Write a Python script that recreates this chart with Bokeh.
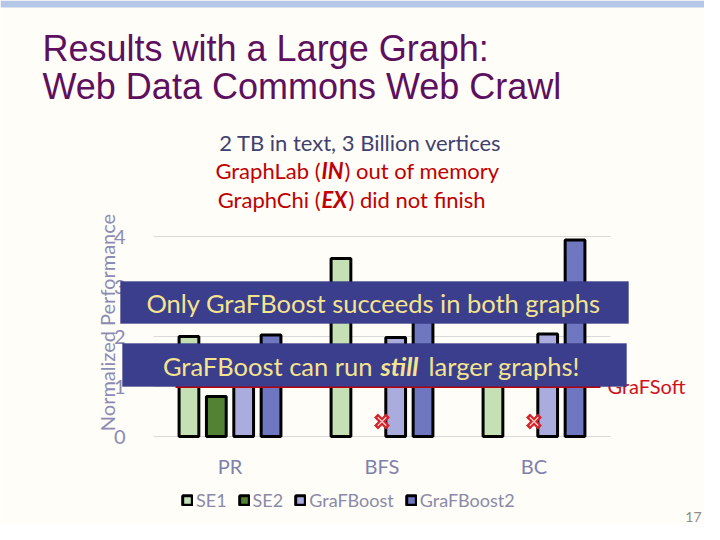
import math
from bokeh.plotting import figure
from bokeh.models import (Range1d, ColumnDataSource, Label, BoxAnnotation,
                          Legend, LegendItem, FixedTicker)
from bokeh.transform import dodge
from bokeh.embed import file_html
from bokeh.resources import INLINE

# ---------------- data ----------------
categories = ["PR", "BFS", "BC"]
se1 = [2.0, 3.56, 1.5]
se2 = [0.8, float("nan"), float("nan")]
grafboost = [1.5, 1.98, 2.05]
grafboost2 = [2.03, 2.8, 3.93]
failed_categories = ["BFS", "BC"]
grafsoft_level = 1.0
y_ticks = [0, 1, 2, 3, 4]
series_names = ["SE1", "SE2", "GraFBoost", "GraFBoost2"]

# ---------------- layout helpers (canvas px -> data) ----------------
W, H = 704, 524
PLOT_L, PLOT_R, PLOT_T, PLOT_B = 153.5, 609.5, 236, 436  # px of the chart area
CAT_PX = (PLOT_R - PLOT_L) / len(categories)
UNIT_PX = (PLOT_B - PLOT_T) / 4.0


def dx(px):
    return (px - PLOT_L) / CAT_PX


def dy(py):
    return (PLOT_B - py) / UNIT_PX


BG = "#fffdf7"
CAL = "Lato"

p = figure(x_range=Range1d(dx(0), dx(W)), y_range=Range1d(dy(H), dy(0)),
           width=W, height=H, output_backend="svg", toolbar_location=None,
           min_border=0)
p.background_fill_color = BG
p.border_fill_color = BG
p.outline_line_color = None

cat_pos = [i + 0.5 for i in range(len(categories))]
src = ColumnDataSource(dict(xc=cat_pos, se1=se1, se2=se2, gf=grafboost, gf2=grafboost2))

# grid lines of the chart area
p.segment(x0=[dx(153)] * len(y_ticks), x1=[dx(610)] * len(y_ticks), y0=y_ticks, y1=y_ticks,
          line_color="#d9d9d9", line_width=1, level="underlay")

colors = ["#c5e0b4", "#548235", "#a9acdc", "#6e77c0"]
fields = ["se1", "se2", "gf", "gf2"]
offsets = [-0.27, -0.09, 0.09, 0.27]
renderers = []
for f, c, o in zip(fields, colors, offsets):
    r = p.vbar(x=dodge("xc", o), top=f, bottom=0, width=0.13, source=src,
               fill_color=c, line_color="black", line_width=3)
    renderers.append(r)

# GraFSoft reference line
p.segment(x0=[dx(175)], y0=[grafsoft_level], x1=[dx(600)], y1=[grafsoft_level],
          line_color="#c00000", line_width=3)

# failure markers
fsrc = ColumnDataSource(dict(xc=[cat_pos[categories.index(c)] for c in failed_categories],
                             y=[0.3] * len(failed_categories)))
p.scatter(x=dodge("xc", 0.0), y="y", source=fsrc, marker="x",
          size=17, line_color="#d2232a", line_width=5.5)
p.scatter(x=dodge("xc", 0.0), y="y", source=fsrc, marker="x",
          size=12, line_color="#f8d0d0", line_width=1.2)

# axes (fixed inside the canvas)
p.xgrid.visible = False
p.ygrid.visible = False

p.yaxis.fixed_location = dx(153)
p.yaxis.ticker = FixedTicker(ticks=y_ticks)
p.yaxis.axis_line_color = None
p.yaxis.major_tick_line_color = None
p.yaxis.minor_tick_line_color = None
p.yaxis.major_label_standoff = 22
p.yaxis.major_label_text_font = CAL
p.yaxis.major_label_text_font_size = "20px"
p.yaxis.major_label_text_color = "#8a8cb4"

p.xaxis.fixed_location = 0
p.xaxis.ticker = FixedTicker(ticks=cat_pos)
p.xaxis.major_label_overrides = {pos: c for pos, c in zip(cat_pos, categories)}
p.xaxis.axis_line_color = None
p.xaxis.major_tick_line_color = None
p.xaxis.minor_tick_line_color = None
p.xaxis.major_label_standoff = 11
p.xaxis.major_label_text_font = CAL
p.xaxis.major_label_text_font_size = "20px"
p.xaxis.major_label_text_color = "#7e80ad"

# legend
legend = Legend(items=[LegendItem(label=n, renderers=[r]) for n, r in zip(series_names, renderers)],
                orientation="horizontal", location=(181, 13),
                glyph_width=12, glyph_height=12, label_standoff=3, spacing=11,
                padding=0, margin=0, background_fill_alpha=0, border_line_alpha=0,
                label_text_font=CAL, label_text_font_size="18px", label_text_color="#8a8aa8")
p.add_layout(legend)


# ----- slide texts -----
def lab(text, px, py, size, color, font=CAL, align="left", baseline="middle",
        style="normal", angle=0):
    p.add_layout(Label(x=dx(px), y=dy(py), text=text, text_font=font,
                       text_font_size=f"{size}px", text_color=color, text_align=align,
                       text_baseline=baseline, text_font_style=style, angle=angle))


# top band
p.add_layout(BoxAnnotation(left=dx(0), right=dx(W), top=dy(0), bottom=dy(7),
                           fill_color="#b4c7e7", fill_alpha=1, line_color=None))

TITLE_C = "#5e1060"
lab("Results with a Large Graph:", 42, 48, 36, TITLE_C, font="Liberation Sans")
lab("Web Data Commons Web Crawl", 42, 86, 36, TITLE_C, font="Liberation Sans")

lab("2 TB in text, 3 Billion vertices", 360, 142, 22, "#3f4170", align="center")
RED = "#c00000"
lab("GraphLab (", 320, 170, 22, RED, align="right")
lab("IN", 321, 170, 22, RED, style="bold italic")
lab(") out of memory", 344, 170, 22, RED)
lab("GraphChi (", 320, 199, 22, RED, align="right")
lab("EX", 321, 199, 22, RED, style="bold italic")
lab(") did not finish", 348, 199, 22, RED)

lab("Normalized Performance", 106, 322, 20, "#8a8cb4", align="center", angle=math.pi / 2)

lab("GraFSoft", 607, 385, 20, "#d0101a")

# overlay boxes
BOX_F = "#3b3e8d"
p.add_layout(BoxAnnotation(left=dx(120), right=dx(628), top=dy(281), bottom=dy(323),
                           fill_color=BOX_F, fill_alpha=1, line_color="#2c2f74", line_width=1))
p.add_layout(BoxAnnotation(left=dx(122), right=dx(626), top=dy(343), bottom=dy(386),
                           fill_color=BOX_F, fill_alpha=1, line_color="#2c2f74", line_width=1))
YEL = "#f5e48f"
lab("Only GraFBoost succeeds in both graphs", 373, 302, 25.5, YEL, align="center")
lab("GraFBoost can run", 372, 365, 25.5, YEL, align="right")
lab("still", 380, 365, 25.5, YEL, style="bold italic")
lab("larger graphs!", 428, 365, 25.5, YEL)

lab("17", 701, 516, 14, "#8c8c8c", align="right")

open("out.html", "w").write(file_html(p, INLINE))
